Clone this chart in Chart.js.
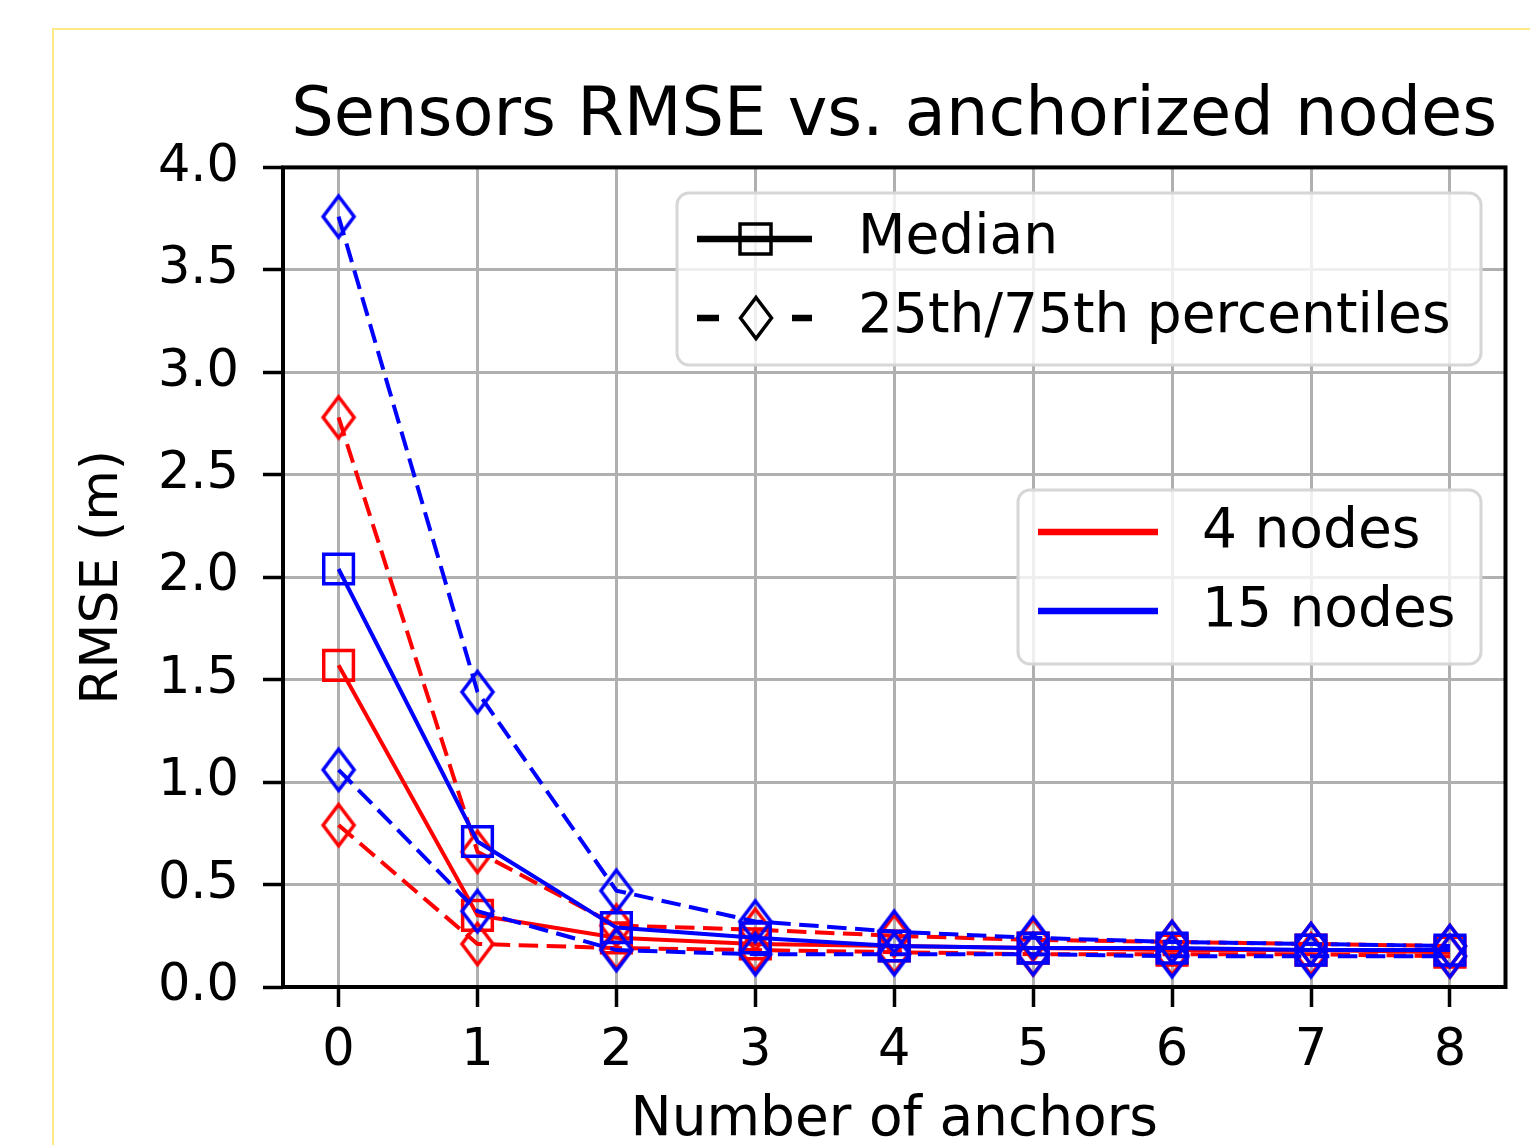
<!DOCTYPE html>
<html>
<head>
<meta charset="utf-8">
<script src="https://cdn.jsdelivr.net/npm/chart.js@4"></script>
<style>
  html, body { margin: 0; padding: 0; background: #fff; }
  #wrap { position: relative; width: 1530px; height: 1145px; overflow: hidden; }
  #frame {
    position: absolute; left: 52px; top: 28px; width: 1500px; height: 1140px;
    border-left: 2px solid #fde98c; border-top: 2px solid #fde98c;
  }
  canvas { position: absolute; left: 0; top: 0; }
</style>
</head>
<body>
<div id="wrap">
  <div id="frame"></div>
  <canvas id="chart" width="1530" height="1145"></canvas>
</div>
<script>
// data
const anchors = [0, 1, 2, 3, 4, 5, 6, 7, 8];
const yTicks = [0, 0.5, 1, 1.5, 2, 2.5, 3, 3.5, 4];

const red_median = [1.57, 0.35, 0.24, 0.21, 0.20, 0.19, 0.18, 0.18, 0.17];
const red_p25 = [0.79, 0.21, 0.19, 0.18, 0.17, 0.16, 0.16, 0.16, 0.15];
const red_p75 = [2.78, 0.66, 0.30, 0.28, 0.25, 0.23, 0.22, 0.21, 0.20];

const blue_median = [2.04, 0.71, 0.29, 0.24, 0.20, 0.19, 0.19, 0.18, 0.18];
const blue_p25 = [1.06, 0.37, 0.18, 0.16, 0.16, 0.16, 0.15, 0.15, 0.15];
const blue_p75 = [3.76, 1.44, 0.47, 0.32, 0.27, 0.24, 0.22, 0.21, 0.20];

const styleLabels = ["Median", "25th/75th percentiles"];
const seriesLabels = ["4 nodes", "15 nodes"];

const RED = "#ff0000";
const BLUE = "#0000ff";
const FONT = "'DejaVu Sans', sans-serif";

// thin diamond marker like matplotlib 'd'
function diamond(color) {
  const w = 40, h = 54;
  const c = document.createElement("canvas");
  c.width = w;
  c.height = h;
  const g = c.getContext("2d");
  g.strokeStyle = color;
  g.lineWidth = 3.5;
  g.lineJoin = "miter";
  g.beginPath();
  g.moveTo(w / 2, h / 2 - 20.5);
  g.lineTo(w / 2 + 15.5, h / 2);
  g.lineTo(w / 2, h / 2 + 20.5);
  g.lineTo(w / 2 - 15.5, h / 2);
  g.closePath();
  g.stroke();
  return c;
}

const redDiamond = diamond(RED);
const blueDiamond = diamond(BLUE);
const blackDiamond = diamond("#000");

function pts(values) {
  return anchors.map((a, i) => ({ x: a, y: values[i] }));
}

function medianSet(values, color) {
  return {
    data: pts(values),
    borderColor: color,
    borderWidth: 4,
    pointStyle: "rect",
    pointRadius: 21,
    pointBorderWidth: 3.5,
    pointBorderColor: color,
    pointBackgroundColor: "rgba(0,0,0,0)",
    tension: 0
  };
}

function pctSet(values, color, img) {
  return {
    data: pts(values),
    borderColor: color,
    borderWidth: 4,
    borderDash: [19.5, 8.5],
    pointStyle: img,
    pointRadius: 20,
    tension: 0
  };
}

// frame around the axes, drawn above the lines
const framePlugin = {
  id: "frame",
  afterDatasetsDraw(chart) {
    const a = chart.chartArea;
    const ctx = chart.ctx;
    ctx.save();
    ctx.strokeStyle = "#000";
    ctx.lineWidth = 4;
    ctx.strokeRect(a.left, a.top, a.right - a.left, a.bottom - a.top);
    ctx.restore();
  }
};

function legendBox(ctx, x, y, w, h) {
  const r = 12;
  ctx.beginPath();
  ctx.moveTo(x + r, y);
  ctx.arcTo(x + w, y, x + w, y + h, r);
  ctx.arcTo(x + w, y + h, x, y + h, r);
  ctx.arcTo(x, y + h, x, y, r);
  ctx.arcTo(x, y, x + w, y, r);
  ctx.closePath();
  ctx.fillStyle = "rgba(255,255,255,0.8)";
  ctx.fill();
  ctx.strokeStyle = "#d6d6d6";
  ctx.lineWidth = 3;
  ctx.stroke();
}

const legendPlugin = {
  id: "twoLegends",
  afterDraw(chart) {
    const ctx = chart.ctx;
    ctx.save();
    ctx.font = "55px " + FONT;
    ctx.textBaseline = "middle";
    ctx.textAlign = "left";

    // marker style legend
    legendBox(ctx, 677, 193, 804, 172);
    ctx.strokeStyle = "#000";
    ctx.lineWidth = 6.5;
    ctx.beginPath();
    ctx.moveTo(697, 239);
    ctx.lineTo(812, 239);
    ctx.stroke();
    ctx.lineWidth = 3.5;
    ctx.strokeRect(740, 224, 31, 30);
    ctx.lineWidth = 6.5;
    ctx.beginPath();
    ctx.moveTo(697, 318);
    ctx.lineTo(719, 318);
    ctx.moveTo(792, 318);
    ctx.lineTo(812, 318);
    ctx.stroke();
    ctx.drawImage(blackDiamond, 756 - 20, 318 - 27);
    ctx.fillStyle = "#000";
    ctx.fillText(styleLabels[0], 858, 239);
    ctx.fillText(styleLabels[1], 858, 318);

    // colour legend
    legendBox(ctx, 1018, 490, 463, 174);
    ctx.lineWidth = 6.5;
    ctx.strokeStyle = RED;
    ctx.beginPath();
    ctx.moveTo(1038, 532);
    ctx.lineTo(1158, 532);
    ctx.stroke();
    ctx.strokeStyle = BLUE;
    ctx.beginPath();
    ctx.moveTo(1038, 611);
    ctx.lineTo(1158, 611);
    ctx.stroke();
    ctx.fillStyle = "#000";
    ctx.fillText(seriesLabels[0], 1202, 533);
    ctx.fillText(seriesLabels[1], 1202, 612);
    ctx.restore();
  }
};

new Chart(document.getElementById("chart"), {
  type: "line",
  data: {
    datasets: [
      pctSet(blue_p75, BLUE, blueDiamond),
      pctSet(blue_p25, BLUE, blueDiamond),
      medianSet(blue_median, BLUE),
      pctSet(red_p75, RED, redDiamond),
      pctSet(red_p25, RED, redDiamond),
      medianSet(red_median, RED)
    ]
  },
  options: {
    responsive: false,
    animation: false,
    events: [],
    layout: {
      padding: { left: 60, right: 22, top: 0, bottom: 0 }
    },
    plugins: {
      legend: { display: false },
      tooltip: { enabled: false },
      title: {
        display: true,
        fullSize: false,
        text: "Sensors RMSE vs. anchorized nodes",
        color: "#000",
        font: { family: FONT, size: 67, weight: "normal" },
        padding: { top: 77, bottom: 10 }
      }
    },
    scales: {
      x: {
        type: "linear",
        min: -0.4,
        max: 8.4,
        afterBuildTicks: s => {
          s.ticks = anchors.map(v => ({ value: v }));
        },
        afterFit: s => {
          s.height = 158;
        },
        ticks: {
          color: "#000",
          font: { family: FONT, size: 51 },
          padding: 14,
          maxRotation: 0,
          callback: v => String(v)
        },
        grid: {
          color: "#b0b0b0",
          lineWidth: 3,
          tickColor: "#000",
          tickLength: 20,
          tickWidth: 3.5
        },
        border: { display: false },
        title: {
          display: true,
          text: "Number of anchors",
          color: "#000",
          font: { family: FONT, size: 55 },
          padding: { top: 0, bottom: -9 }
        }
      },
      y: {
        min: 0,
        max: 4,
        afterBuildTicks: s => {
          s.ticks = yTicks.map(v => ({ value: v }));
        },
        afterFit: s => {
          s.width = 223;
        },
        ticks: {
          color: "#000",
          font: { family: FONT, size: 51 },
          padding: 24,
          callback: v => v.toFixed(1)
        },
        grid: {
          color: "#b0b0b0",
          lineWidth: 3,
          tickColor: "#000",
          tickLength: 20,
          tickWidth: 3.5
        },
        border: { display: false },
        title: {
          display: true,
          text: "RMSE (m)",
          color: "#000",
          font: { family: FONT, size: 52 },
          padding: { top: 12, bottom: 0 }
        }
      }
    }
  },
  plugins: [framePlugin, legendPlugin]
});
</script>
</body>
</html>
